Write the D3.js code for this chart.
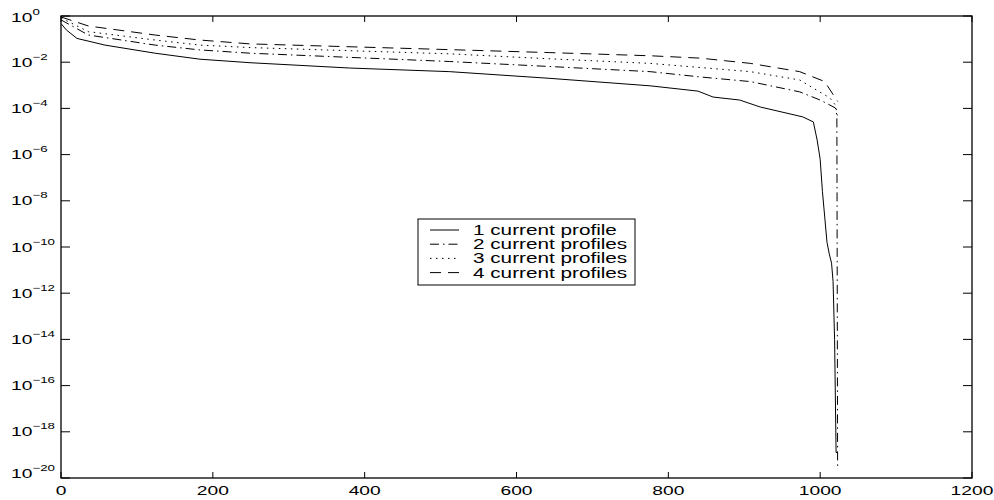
<!DOCTYPE html>
<html>
<head>
<meta charset="utf-8">
<script src="https://cdn.jsdelivr.net/npm/d3@7"></script>
<style>
  html, body { margin: 0; padding: 0; background: #fff; }
  text { font-family: "Liberation Sans", Arial, Helvetica, sans-serif; fill: #000; }
</style>
</head>
<body>
<svg id="chart" width="994" height="500"></svg>
<script>
// ---- data ----
const xTicks = [0, 200, 400, 600, 800, 1000, 1200];
const yTickExps = [0, -2, -4, -6, -8, -10, -12, -14, -16, -18, -20];

const s1x = [0, 7, 21, 58, 124, 183, 249, 380, 512, 644, 776, 839, 859, 894, 921, 977, 991, 996, 1000, 1003, 1006, 1009, 1012, 1015, 1017, 1019, 1021, 1023];
const s1y = [4.7e-1, 2.5e-1, 1.07e-1, 5.5e-2, 2.45e-2, 1.35e-2, 9.5e-3, 5.6e-3, 3.9e-3, 2.0e-3, 9.5e-4, 5.6e-4, 3.1e-4, 2.3e-4, 1.15e-4, 4.3e-5, 2.6e-5, 4.3e-6, 6.3e-7, 2.5e-8, 2.0e-9, 1.6e-10, 5.0e-11, 2.0e-11, 3.2e-12, 1e-14, 1.26e-19, 1.26e-19];

const s2x = [0, 36, 124, 183, 249, 512, 644, 776, 842, 908, 973, 1000, 1020, 1022, 1023];
const s2y = [6.8e-1, 1.5e-1, 5.5e-2, 3.4e-2, 2.45e-2, 1.07e-2, 6.5e-3, 3.9e-3, 2.3e-3, 1.45e-3, 5.2e-4, 2.3e-4, 1.05e-4, 5e-5, 2.5e-20];

const s3x = [0, 36, 124, 183, 249, 512, 644, 776, 908, 973, 1013, 1020, 1023];
const s3y = [8.3e-1, 2.1e-1, 9.1e-2, 5.5e-2, 4.3e-2, 2.3e-2, 1.4e-2, 8.9e-3, 3.9e-3, 1.7e-3, 2.8e-4, 1.4e-4, 5e-5];

const s4x = [0, 36, 124, 183, 249, 512, 644, 776, 842, 908, 973, 1006, 1020, 1023];
const s4y = [9.1e-1, 3.7e-1, 1.5e-1, 9.1e-2, 6.2e-2, 3.5e-2, 2.6e-2, 1.9e-2, 1.5e-2, 8.9e-3, 3.9e-3, 1.45e-3, 2.8e-4, 2.0e-4];

const seriesNames = ["1 current profile", "2 current profiles", "3 current profiles", "4 current profiles"];

// ---- layout ----
const svg = d3.select("#chart");
const L = 61, R = 972, T = 16, B = 478;
const SX = 1.48; // horizontal stretch of glyphs in the original

const x = d3.scaleLinear().domain([0, 1200]).range([L, R]);
const y = d3.scaleLog().domain([1e-20, 1]).range([B, T]);

svg.append("rect").attr("width", 994).attr("height", 500).attr("fill", "#fff");

const series = [
  { xs: s1x, ys: s1y, dash: null, name: seriesNames[0] },
  { xs: s2x, ys: s2y, dash: "9,4,1.5,4", name: seriesNames[1] },
  { xs: s3x, ys: s3y, dash: "1.5,4.5", name: seriesNames[2] },
  { xs: s4x, ys: s4y, dash: "11,7", name: seriesNames[3] }
];

const line = d3.line().x(d => x(d[0])).y(d => y(d[1]));

series.forEach(s => {
  const pts = s.xs.map((v, i) => [v, s.ys[i]]);
  svg.append("path")
    .attr("d", line(pts))
    .attr("fill", "none")
    .attr("stroke", "#000")
    .attr("stroke-width", 1)
    .attr("stroke-dasharray", s.dash);
});

// ---- frame ----
svg.append("rect")
  .attr("x", L).attr("y", T).attr("width", R - L).attr("height", B - T)
  .attr("fill", "none").attr("stroke", "#000").attr("stroke-width", 1.3);

// x ticks (inward, top and bottom)
const xtl = 6;
xTicks.forEach(t => {
  const px = x(t);
  svg.append("line").attr("x1", px).attr("x2", px).attr("y1", B).attr("y2", B - xtl)
    .attr("stroke", "#000").attr("stroke-width", 1);
  svg.append("line").attr("x1", px).attr("x2", px).attr("y1", T).attr("y2", T + xtl)
    .attr("stroke", "#000").attr("stroke-width", 1);
  svg.append("text")
    .attr("transform", `translate(${px},495) scale(${SX},1)`)
    .attr("text-anchor", "middle")
    .attr("font-size", 13)
    .text(t);
});

// y ticks (inward, left and right)
const ytl = 9;
yTickExps.forEach((e, i) => {
  const py = y(Math.pow(10, e));
  svg.append("line").attr("x1", L).attr("x2", L + ytl).attr("y1", py).attr("y2", py)
    .attr("stroke", "#000").attr("stroke-width", 1);
  svg.append("line").attr("x1", R).attr("x2", R - ytl).attr("y1", py).attr("y2", py)
    .attr("stroke", "#000").attr("stroke-width", 1);
  let off = 4.5;
  if (e === 0) off = 5.5;
  if (e === -20) off = -0.5;
  const t = svg.append("text")
    .attr("transform", `translate(11,${py + off}) scale(${SX},1)`)
    .attr("font-size", 13);
  t.append("tspan").text("10");
  t.append("tspan").attr("font-size", 9).attr("dy", -7)
    .text(e === 0 ? "0" : "\u2212" + Math.abs(e));
});

// ---- legend ----
const lg = { x: 418, y: 219, w: 217, h: 66 };
svg.append("rect").attr("x", lg.x).attr("y", lg.y).attr("width", lg.w).attr("height", lg.h)
  .attr("fill", "#fff").attr("stroke", "#000").attr("stroke-width", 1);
series.forEach((s, i) => {
  const cy = 230 + i * 14.2;
  svg.append("line").attr("x1", 430).attr("x2", 459).attr("y1", cy).attr("y2", cy)
    .attr("stroke", "#000").attr("stroke-width", 1).attr("stroke-dasharray", s.dash);
  svg.append("text")
    .attr("transform", `translate(473,${cy + 5}) scale(${SX},1)`)
    .attr("font-size", 14)
    .text(s.name);
});
</script>
</body>
</html>
